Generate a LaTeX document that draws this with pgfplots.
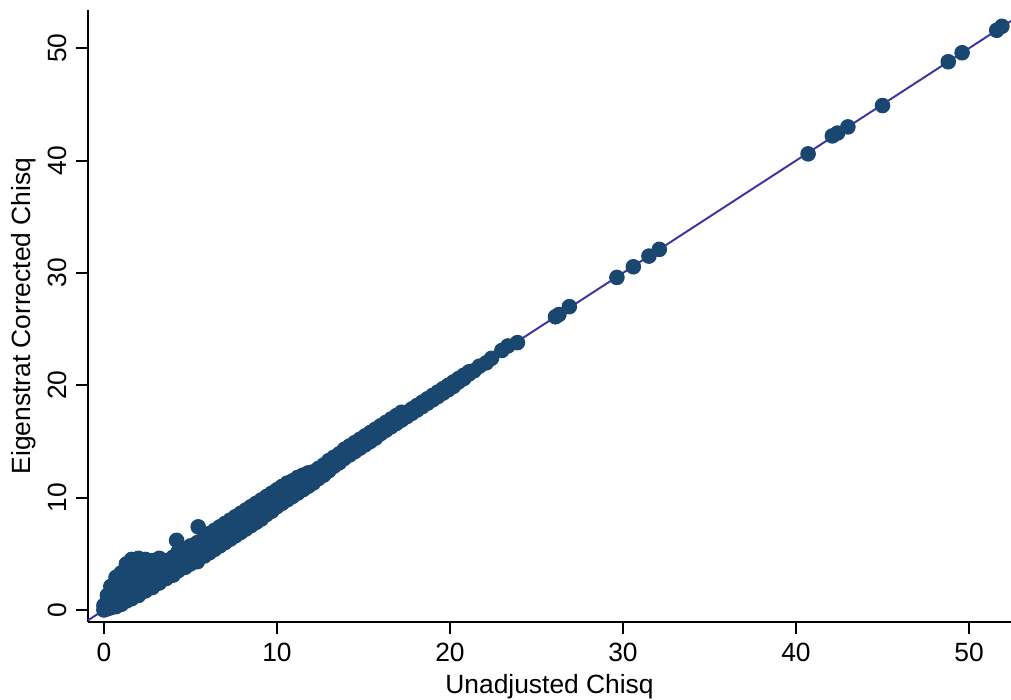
\documentclass[border=0pt]{standalone}
\usepackage{fontspec}
\setmainfont{Liberation Sans}
\usepackage{pgfplots}
\usepackage{pgfplotstable}
\pgfplotsset{compat=1.18}
\definecolor{stnavy}{RGB}{26,71,111}
\definecolor{stline}{RGB}{60,52,160}
\pgfplotstableread{
x y
0.0 0.0
0.0 0.4
0.2 0.1
0.2 0.8
0.2 1.3
0.4 0.2
0.4 0.9
0.4 1.6
0.4 2.1
0.7 0.3
0.7 1.0
0.7 1.7
0.7 2.4
0.7 2.9
1.0 0.5
1.0 1.2
1.0 1.9
1.0 2.6
1.0 3.3
1.3 0.8
1.3 1.5
1.3 2.2
1.3 2.9
1.3 3.6
1.3 4.1
1.6 1.0
1.6 1.7
1.6 2.4
1.6 3.1
1.6 3.8
1.6 4.5
2.0 1.3
2.0 2.1
2.0 2.8
2.0 3.4
2.0 4.1
2.0 4.6
2.4 1.7
2.4 2.5
2.4 3.2
2.4 3.9
2.4 4.5
2.8 2.0
2.8 2.9
2.8 3.6
2.8 4.4
3.2 2.4
3.2 3.3
3.2 4.0
3.2 4.6
3.6 2.8
3.6 3.7
3.6 4.4
4.0 3.1
4.0 4.0
4.0 4.7
4.3 3.5
4.3 4.4
4.3 5.2
4.2 6.2
4.7 3.8
4.7 4.7
4.7 5.4
5.0 4.1
5.0 5.0
5.0 5.7
5.4 4.3
5.4 5.2
5.4 6.0
5.45 7.4
5.8 4.8
5.8 5.5
5.8 6.1
5.8 6.5
6.1 5.1
6.1 5.7
6.1 6.3
6.1 6.8
6.4 5.4
6.4 6.0
6.4 6.6
6.4 7.1
6.7 5.7
6.7 6.3
6.7 6.9
6.7 7.4
7.0 6.0
7.0 6.6
7.0 7.2
7.0 7.7
7.3 6.3
7.3 6.9
7.3 7.5
7.3 8.0
7.6 6.6
7.6 7.2
7.6 7.8
7.6 8.3
7.9 6.9
7.9 7.5
7.9 8.1
7.9 8.6
8.2 7.2
8.2 7.8
8.2 8.4
8.2 8.9
8.5 7.5
8.5 8.1
8.5 8.7
8.5 9.2
8.8 7.8
8.8 8.4
8.8 9.0
8.8 9.5
9.1 8.1
9.1 8.7
9.1 9.3
9.1 9.8
9.4 8.5
9.4 9.0
9.4 9.6
9.4 10.1
9.7 8.8
9.7 9.3
9.7 9.9
9.7 10.4
10.0 9.2
10.0 9.6
10.0 10.2
10.0 10.7
10.3 9.5
10.3 9.9
10.3 10.5
10.3 11.0
10.6 9.8
10.6 10.2
10.6 10.8
10.6 11.3
10.9 10.1
10.9 10.5
10.9 11.1
10.9 11.5
11.2 10.4
11.2 10.8
11.2 11.4
11.2 11.8
11.5 10.7
11.5 11.1
11.5 11.7
11.5 12.0
11.8 11.0
11.8 11.4
11.8 12.0
11.8 12.2
12.1 11.3
12.1 11.8
12.1 12.3
12.4 11.7
12.4 12.2
12.4 12.6
12.7 12.0
12.7 12.5
12.7 12.9
13.0 12.4
13.0 12.9
13.0 13.3
13.3 12.8
13.3 13.2
13.3 13.6
13.6 13.1
13.6 13.6
13.6 13.9
13.9 13.5
13.9 14.0
13.9 14.3
14.2 13.8
14.2 14.3
14.2 14.6
14.5 14.1
14.5 14.6
14.5 14.9
14.8 14.4
14.8 14.9
14.8 15.2
15.1 14.7
15.1 15.2
15.1 15.5
15.4 15.0
15.4 15.5
15.4 15.8
15.7 15.3
15.7 15.8
15.7 16.1
16.0 15.7
16.0 16.1
16.0 16.4
16.3 16.0
16.3 16.4
16.3 16.7
16.6 16.3
16.6 16.7
16.6 17.0
16.9 16.6
16.9 17.0
16.9 17.3
17.2 16.9
17.2 17.3
17.2 17.6
17.5 17.2
17.5 17.6
17.8 17.5
17.8 17.9
18.1 17.8
18.1 18.2
18.4 18.1
18.4 18.5
18.7 18.4
18.7 18.8
19.0 18.7
19.0 19.1
19.3 19.0
19.3 19.4
19.6 19.3
19.6 19.7
19.9 19.6
19.9 20.0
20.2 19.9
20.2 20.3
20.5 20.3
20.5 20.6
20.8 20.6
20.8 20.9
21.1 21.0
21.1 21.2
21.4 21.3
21.7 21.7
22.1 22.0
22.4 22.4
23.0 23.1
23.35 23.5
23.9 23.8
26.1 26.1
26.3 26.3
26.9 27.0
29.65 29.6
30.6 30.55
31.5 31.5
32.1 32.1
40.7 40.6
42.1 42.2
42.4 42.45
43.0 43.0
45.0 44.9
48.8 48.8
49.6 49.6
51.6 51.6
51.9 51.95
}\pts
\begin{document}
\begin{tikzpicture}
\begin{axis}[
  name=ax,
  scale only axis,
  width=332.3pt, height=220.3pt,
  xmin=-0.92, xmax=52.43,
  ymin=-1.07, ymax=53.4,
  axis x line*=bottom, axis y line*=left,
  axis line style={black, line width=0.8pt},
  xtick={0,10,20,30,40,50},
  ytick={0,10,20,30,40,50},
  tick align=outside,
  major tick length=4.2pt,
  tick style={black, line width=0.7pt},
  /pgf/number format/assume math mode=true,
  ticklabel style={font=\fontsize{9.5}{11}\selectfont},
  yticklabel style={rotate=90, anchor=south},
  xlabel={Unadjusted Chisq},
  ylabel={Eigenstrat Corrected Chisq},
  label style={font=\fontsize{9.5}{11}\selectfont},
  xlabel style={yshift=2.6pt},
  ylabel style={yshift=-2.5pt},
  clip=false,
]
\addplot[only marks, mark=*, mark size=2.6pt, draw=stnavy, fill=stnavy] table[x=x,y=y] {\pts};
\addplot[stline, line width=0.7pt] coordinates {(-0.92,-0.92) (52.43,52.43)};
\end{axis}
\pgfresetboundingbox
\path (ax.south west) ++(-31.68pt,-27.72pt) rectangle ++(363.96pt,251.64pt);
\end{tikzpicture}
\end{document}
